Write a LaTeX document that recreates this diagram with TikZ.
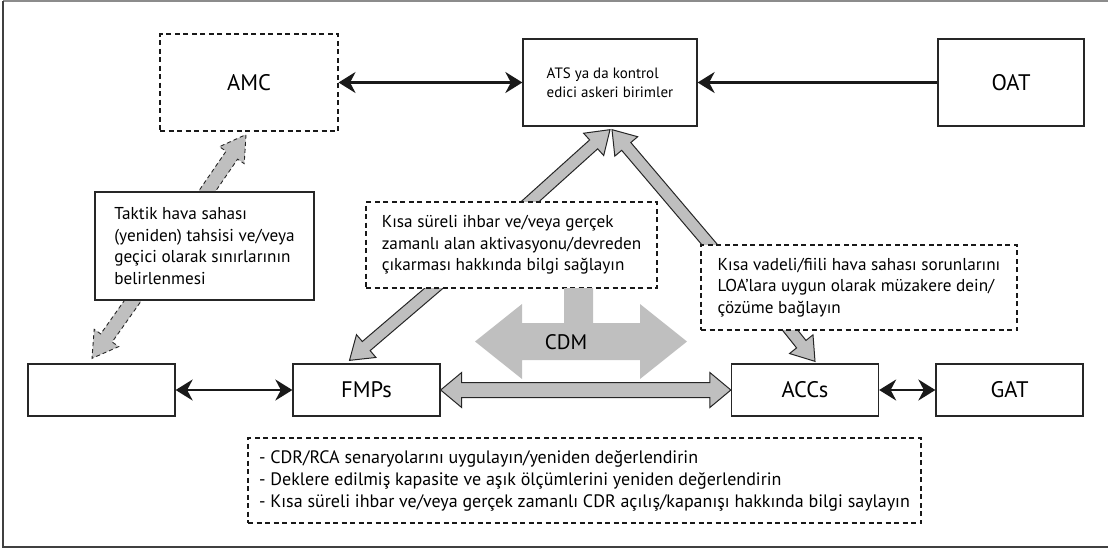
\documentclass[tikz,border=0pt]{standalone}
\usepackage{fontspec}
\setmainfont{PT Sans}
\usetikzlibrary{calc,arrows.meta}
\pgfdeclarelayer{bg}
\pgfsetlayers{bg,main}

% single-headed broad arrow: [style]{tail}{tip}{half shaft}{half head}{head length}
\newcommand\fatarrow[6][]{%
  \coordinate (fah) at ($(#3)!#6!(#2)$);
  \draw[#1] ($(#2)!#4!90:(#3)$) -- ($(fah)!#4!90:(#3)$) -- ($(fah)!#5!90:(#3)$)
    -- (#3) -- ($(fah)!#5!-90:(#3)$) -- ($(fah)!#4!-90:(#3)$)
    -- ($(#2)!#4!-90:(#3)$) -- cycle;}
% double-headed broad arrow: [style]{tip a}{tip b}{half shaft}{half head}{head length}
\newcommand\fatdarrow[6][]{%
  \coordinate (fha) at ($(#2)!#6!(#3)$);
  \coordinate (fhb) at ($(#3)!#6!(#2)$);
  \draw[#1] (#2) -- ($(fha)!#5!90:(#3)$) -- ($(fha)!#4!90:(#3)$)
    -- ($(fhb)!#4!-90:(#2)$) -- ($(fhb)!#5!-90:(#2)$) -- (#3)
    -- ($(fhb)!#5!90:(#2)$) -- ($(fhb)!#4!90:(#2)$)
    -- ($(fha)!#4!-90:(#3)$) -- ($(fha)!#5!-90:(#3)$) -- cycle;}

\definecolor{arrowgray}{gray}{0.75}

\begin{document}
\begin{tikzpicture}[x=1pt,y=-1pt,
  box/.style={draw=black!85, line width=1.3pt, fill=white, inner sep=0pt, align=left,
    font=\fontsize{17.2}{21.5}\selectfont},
  dbox/.style={box, line width=1.1pt, draw=black!90, dash pattern=on 5pt off 3.5pt},
  labelfont/.style={font=\fontsize{22.5}{26}\selectfont},
  unitbox/.style={box, labelfont, minimum width=147pt, minimum height=52pt},
  tip/.style={Stealth[length=17pt,width=21pt,inset=5.5pt]},
  link/.style={line width=2.3pt, black!90, {Stealth[length=17pt,width=21pt,inset=5.5pt]}-{Stealth[length=17pt,width=21pt,inset=5.5pt]}},
  onelink/.style={line width=2.3pt, black!90, -{Stealth[length=17pt,width=21pt,inset=5.5pt]}},
  broad/.style={fill=arrowgray, draw=black!85, line width=1pt, line join=miter},
  dbroad/.style={fill=arrowgray, draw=black!85, line width=0.9pt, dash pattern=on 4pt off 3pt},
]
\useasboundingbox (0,0) rectangle (1108,550);

% outer frame
\draw[black!45, line width=1.5pt] (3,1) -- (1108,1);
\draw[black!75, line width=1.5pt] (1108,547) -- (3,547) -- (3,1);

% units
\node[dbox, labelfont, minimum width=178pt, minimum height=97pt]
  (amc) at (249,82.5) {AMC};
\node[box, minimum width=174pt, minimum height=87pt, font=\fontsize{15}{19}\selectfont]
  (ats) at (610,82.5) {ATS ya da kontrol\\edici askeri birimler};
\node[box, labelfont, minimum width=146pt, minimum height=87pt]
  (oat) at (1011,82.5) {OAT};
\node[box, minimum width=219pt, minimum height=108pt] (taktik) at (204.5,246)
  {Taktik hava sahası\\(yeniden) tahsisi ve/veya\\geçici olarak sınırlarının\\belirlenmesi};
\node[unitbox] (unit) at (101.5,390) {};
\node[unitbox] (fmps) at (366.5,390) {FMPs};
\node[unitbox] (accs) at (805,390) {ACCs};
\node[unitbox] (gat) at (1009.5,390) {GAT};

% notes
\node[dbox, minimum width=291pt, minimum height=86pt] (sure) at (511.5,245)
  {Kısa süreli ihbar ve/veya gerçek\\zamanlı alan aktivasyonu/devreden\\çıkarması hakkında bilgi sağlayın};
\node[dbox, minimum width=316pt, minimum height=85pt] (vadeli) at (859,287.5)
  {Kısa vadeli/fiili hava sahası sorunlarını\\LOA’lara uygun olarak müzakere dein/\\çözüme bağlayın};
\node[dbox, minimum width=673pt, minimum height=85pt, font=\fontsize{18}{22}\selectfont]
  (tasks) at (584.5,480.5)
  {- CDR/RCA senaryolarını uygulayın/yeniden değerlendirin\\
   - Deklere edilmiş kapasite ve aşık ölçümlerini yeniden değerlendirin\\
   - Kısa süreli ihbar ve/veya gerçek zamanlı CDR açılış/kapanışı hakkında bilgi saylayın};

% thin connectors
\draw[link] (amc.east) -- (ats.west);
\draw[onelink] (oat.west) -- (ats.east);
\draw[link] (unit.east) -- (fmps.west);
\draw[link] (accs.east) -- (gat.west);

% CDM
\fill[arrowgray] (475,341.5) -- (522,304) -- (522,323) -- (564,323) -- (564,288)
  -- (593,288) -- (593,323) -- (640,323) -- (640,304) -- (687,341.5) -- (640,379)
  -- (640,360) -- (522,360) -- (522,379) -- cycle;
\node[font=\fontsize{21}{25}\selectfont, inner sep=0pt] (cdm) at (566,342) {CDM};

% broad arrows
\begin{pgfonlayer}{bg}
  \coordinate (t1) at ($(sure.north)+(11,7)$);
  \coordinate (h1) at ($(ats.south)+(0,3)$);
  \fatarrow[broad]{t1}{h1}{6pt}{15pt}{22pt}
  \coordinate (t2) at ($(vadeli.north west)+(15,7)$);
  \coordinate (h2) at ($(ats.south)+(2,3)$);
  \fatarrow[broad]{t2}{h2}{6pt}{15pt}{22pt}
  \coordinate (t3) at ($(sure.south)+(-71,-6)$);
  \coordinate (h3) at ($(fmps.north)+(-17,-3)$);
  \fatarrow[broad]{t3}{h3}{6pt}{15pt}{22pt}
  \coordinate (t4) at ($(vadeli.south)+(-75,-8)$);
  \coordinate (h4) at ($(accs.north)+(10,-2)$);
  \fatarrow[broad]{t4}{h4}{6pt}{15pt}{22pt}
  \coordinate (t5) at ($(taktik.north)+(-3,8)$);
  \coordinate (h5) at ($(amc.south)+(-3,3)$);
  \fatarrow[dbroad]{t5}{h5}{7pt}{15pt}{25pt}
  \coordinate (t6) at ($(taktik.south)+(-66,-8)$);
  \coordinate (h6) at ($(unit.north)+(-9.5,-5)$);
  \fatarrow[dbroad]{t6}{h6}{7pt}{15pt}{25pt}
\end{pgfonlayer}
\fatdarrow[broad]{fmps.east}{accs.west}{7.5pt}{17.5pt}{21pt}

\end{tikzpicture}
\end{document}
